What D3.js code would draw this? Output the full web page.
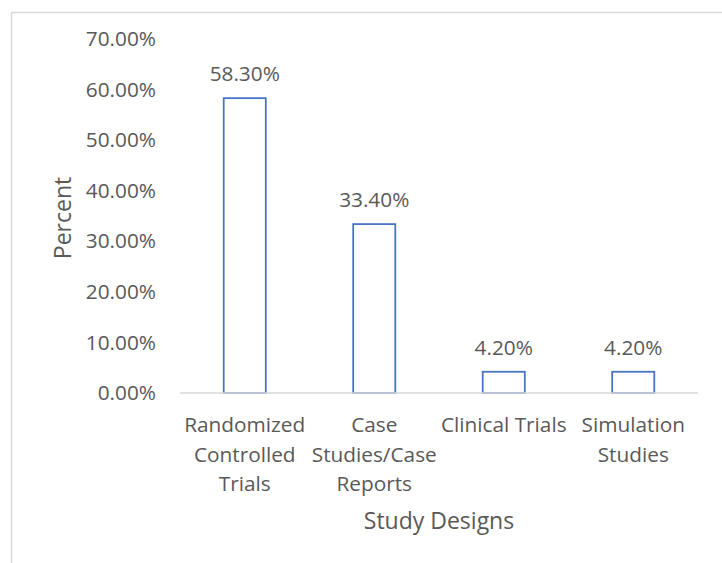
<!DOCTYPE html>
<html>
<head>
<meta charset="utf-8">
<script src="https://cdn.jsdelivr.net/npm/d3@7"></script>
<style>
  html, body { margin: 0; padding: 0; background: #fff; }
  svg { display: block; }
  text { font-family: "Open Sans", "Noto Sans", sans-serif; fill: #595959; }
</style>
</head>
<body>
<svg id="chart" width="722" height="563"></svg>
<script>
// Study design categories, their shares (%) and wrapped label lines
const categories = ["Randomized Controlled Trials", "Case Studies/Case Reports", "Clinical Trials", "Simulation Studies"];
const categoryLines = [["Randomized", "Controlled", "Trials"], ["Case", "Studies/Case", "Reports"], ["Clinical Trials"], ["Simulation", "Studies"]];
const percents = [58.3, 33.4, 4.2, 4.2];
const yTicks = [0, 10, 20, 30, 40, 50, 60, 70];

const svg = d3.select("#chart");
const margin = { left: 180, right: 24, top: 39, bottom: 170 };
const W = 722, H = 563;
const plotW = W - margin.left - margin.right;
const plotH = H - margin.top - margin.bottom;
const labelSize = "20.8px";
const titleSize = "23px";

// Outer chart frame
svg.append("rect")
  .attr("x", 11.5).attr("y", 12.5)
  .attr("width", W).attr("height", H)
  .attr("fill", "none").attr("stroke", "#d9d9d9").attr("stroke-width", 1.5);

const g = svg.append("g").attr("transform", `translate(${margin.left},${margin.top})`);

const x = d3.scaleBand().domain(categories).range([0, plotW]).paddingInner(0.675).paddingOuter(0.3375);
const y = d3.scaleLinear().domain([0, 70]).range([plotH, 0]);

// Y axis labels (no line, no tick marks)
const yAxis = d3.axisLeft(y).tickValues(yTicks).tickSize(0).tickPadding(24)
  .tickFormat(d => d3.format(".2f")(d) + "%");
const ya = g.append("g").call(yAxis);
ya.select(".domain").remove();
ya.selectAll("text").style("font-size", labelSize).attr("fill", "#595959").attr("font-family", null);

// Bars
g.selectAll("rect.bar").data(percents).join("rect")
  .attr("class", "bar")
  .attr("x", (d, i) => x(categories[i]))
  .attr("y", d => y(d))
  .attr("width", x.bandwidth())
  .attr("height", d => plotH - y(d))
  .attr("fill", "#fff").attr("stroke", "#4472c4").attr("stroke-width", 1.75);

// Baseline
g.append("line")
  .attr("x1", 0).attr("x2", plotW)
  .attr("y1", y(0)).attr("y2", y(0))
  .attr("stroke", "#d9d9d9").attr("stroke-width", 1.5);

// Value labels
g.selectAll("text.val").data(percents).join("text")
  .attr("class", "val")
  .attr("x", (d, i) => x(categories[i]) + x.bandwidth() / 2)
  .attr("y", d => y(d) - 17)
  .attr("text-anchor", "middle")
  .style("font-size", labelSize)
  .text(d => d3.format(".2f")(d) + "%");

// Category labels
const band = d3.scaleBand().domain(categories).range([0, plotW]);
categories.forEach((c, i) => {
  const cx = band(c) + band.bandwidth() / 2;
  const t = g.append("text")
    .attr("x", cx)
    .attr("y", plotH + 39)
    .attr("text-anchor", "middle")
    .style("font-size", labelSize);
  categoryLines[i].forEach((line, j) => {
    t.append("tspan").attr("x", cx).attr("dy", j === 0 ? 0 : 29.5).text(line);
  });
});

// Axis titles
svg.append("text")
  .attr("x", margin.left + plotW / 2)
  .attr("y", 529)
  .attr("text-anchor", "middle")
  .style("font-size", titleSize)
  .text("Study Designs");

svg.append("text")
  .attr("transform", `translate(71,${margin.top + plotH / 2 + 2}) rotate(-90)`)
  .attr("text-anchor", "middle")
  .style("font-size", titleSize)
  .text("Percent");
</script>
</body>
</html>
